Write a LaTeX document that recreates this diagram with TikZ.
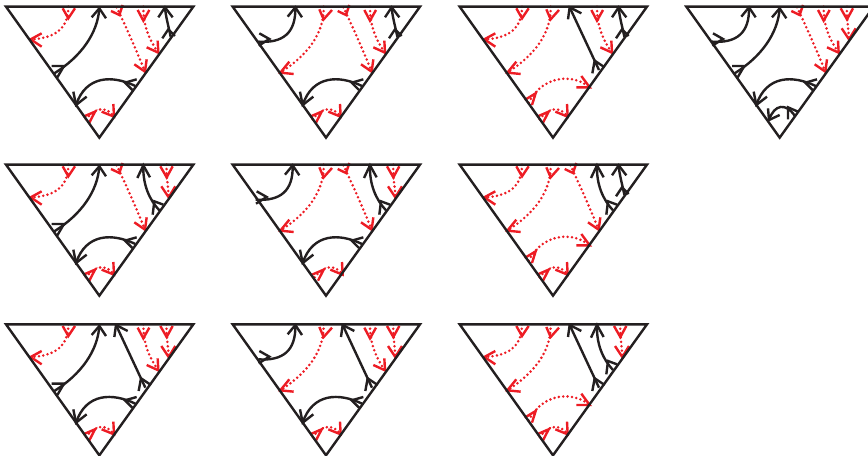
\documentclass[tikz,border=0pt]{standalone}
\definecolor{kline}{HTML}{231F20}
\definecolor{rline}{HTML}{ED1C24}
\tikzset{
  triangle/.style={draw=kline,line width=1.8pt,line join=miter},
  kpiece/.style={draw=kline,line width=1.8pt,line join=miter},
  rpiece/.style={draw=rline,line width=1.8pt,line join=miter},
  dots/.style={line width=2.1pt,line cap=round,dash pattern=on 0pt off 3.3pt}
}
% #1 style, #2 curve, #3 tail barbs and tip, #4 head barbs and tip
\newcommand{\Piece}[5][]{\begin{scope}[#2]\draw[#1] #3;\draw #4;\draw #5;\end{scope}}
\newcommand{\pA}{\Piece[dots]{rpiece}{(187,0) .. controls (187,70) and (142,95) .. (74,98)}{(170,5) -- (187,35) -- (207,5)}{(107,80) -- (74,98) -- (107,120)}}
\newcommand{\pB}{\Piece{kpiece}{(145,200) .. controls (225,150) and (275,80) .. (280,5)}{(137,178) -- (174,178) -- (154,212)}{(257,32) -- (280,5) -- (300,35)}}
\newcommand{\pC}{\Piece[dots]{rpiece}{(332,2) .. controls (360,60) and (395,140) .. (417,195)}{(315,13) -- (340,25) -- (350,-5)}{(385,173) -- (417,195) -- (422,158)}}
\newcommand{\pD}{\Piece[dots]{rpiece}{(412,0) .. controls (412,60) and (430,100) .. (457,138)}{(395,10) -- (412,42) -- (430,10)}{(422,122) -- (457,138) -- (455,102)}}
\newcommand{\pE}{\Piece{kpiece}{(494,90) .. controls (488,60) and (479,30) .. (477,2)}{(469,95) -- (487,68) -- (507,88)}{(457,32) -- (477,2) -- (500,32)}}
\newcommand{\pF}{\Piece{kpiece}{(388,238) .. controls (320,205) and (240,205) .. (210,295)}{(392,218) -- (357,228) -- (379,250)}{(202,255) -- (210,295) -- (242,270)}}
\newcommand{\pG}{\Piece[dots]{rpiece}{(240,338) .. controls (265,305) and (300,295) .. (324,330)}{(232,330) -- (267,315) -- (250,348)}{(287,315) -- (324,330) -- (322,292)}}
\newcommand{\pGb}{\Piece[dots]{rpiece}{(246,338) .. controls (271,305) and (306,295) .. (330,330)}{(238,330) -- (273,315) -- (256,348)}{(293,315) -- (330,330) -- (328,292)}}
\newcommand{\pH}{\Piece{kpiece}{(77,105) .. controls (150,110) and (190,80) .. (188,2)}{(80,80) -- (110,97) -- (78,117)}{(165,30) -- (188,2) -- (208,32)}}
\newcommand{\pHb}{\Piece{kpiece}{(69,105) .. controls (142,110) and (182,80) .. (180,2)}{(72,80) -- (102,97) -- (70,117)}{(157,30) -- (180,2) -- (200,32)}}
\newcommand{\pI}{\Piece[dots]{rpiece}{(273,0) .. controls (275,80) and (225,145) .. (143,198)}{(260,8) -- (273,38) -- (298,10)}{(170,165) -- (143,198) -- (183,202)}}
\newcommand{\pJ}{\Piece{kpiece}{(418,190) -- (330,2)}{(398,200) -- (405,162) -- (435,182)}{(325,38) -- (330,2) -- (365,20)}}
\newcommand{\pK}{\Piece[dots]{rpiece}{(207,288) .. controls (250,205) and (340,200) .. (390,242)}{(195,280) -- (228,260) -- (217,295)}{(365,208) -- (390,242) -- (350,242)}}
\newcommand{\pM}{\Piece[dots]{rpiece}{(482,0) .. controls (480,35) and (487,65) .. (488,98)}{(463,5) -- (482,38) -- (500,5)}{(466,65) -- (488,98) -- (508,65)}}
\newcommand{\pN}{\Piece{kpiece}{(325,327) .. controls (300,290) and (265,290) .. (248,340)}{(305,338) -- (305,302) -- (335,315)}{(245,305) -- (248,340) -- (280,325)}}
\newcommand{\pO}{\Piece{kpiece}{(460,137) .. controls (430,105) and (410,60) .. (412,2)}{(440,150) -- (445,110) -- (472,120)}{(394,40) -- (412,2) -- (432,38)}}
\newcommand{\Tri}[3]{\begin{scope}[shift={(#1,#2)}]
  #3
  \draw[triangle] (0,0) -- (562,0) -- (280,393) -- cycle;
\end{scope}}
\begin{document}
\begin{tikzpicture}[x=0.25pt,y=-0.25pt]
\useasboundingbox (0,0) rectangle (2604,1368);
\Tri{18}{20}{\pA\pB\pC\pD\pE\pF\pG}
\Tri{698}{20}{\pH\pI\pC\pD\pE\pF\pG}
\Tri{1379}{20}{\pA\pI\pJ\pD\pE\pK\pG}
\Tri{2059}{20}{\pH\pB\pC\pD\pM\pF\pN}
\Tri{18}{494}{\pA\pB\pC\pO\pM\pF\pG}
\Tri{698}{494}{\pHb\pI\pC\pO\pM\pF\pGb}
\Tri{1379}{494}{\pA\pI\pC\pO\pE\pK\pG}
\Tri{18}{973}{\pA\pB\pJ\pD\pM\pF\pG}
\Tri{698}{973}{\pH\pI\pJ\pD\pM\pF\pG}
\Tri{1379}{973}{\pA\pI\pJ\pO\pM\pK\pG}
\end{tikzpicture}
\end{document}
